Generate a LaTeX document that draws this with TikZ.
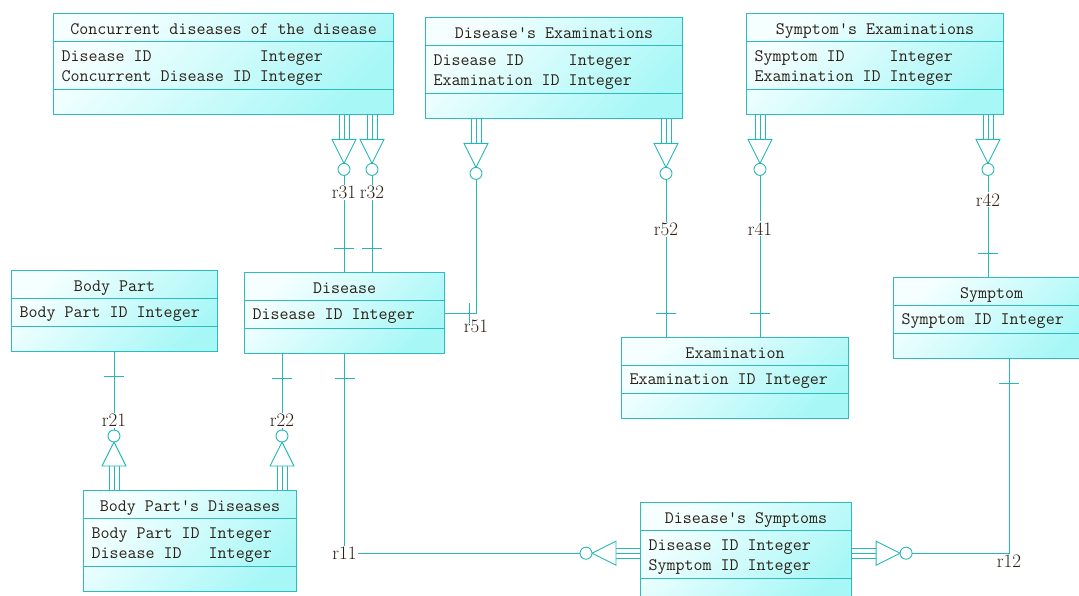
\documentclass[tikz,border=0pt]{standalone}
\usepackage{tikz}
\usetikzlibrary{shapes.multipart}

\definecolor{erline}{RGB}{38,184,184}
\definecolor{erbox}{RGB}{44,188,188}
\definecolor{erlight}{RGB}{246,255,255}
\definecolor{erdark}{RGB}{168,247,247}
\definecolor{ertext}{RGB}{44,32,22}

\newcommand\hdstrut{\rule[-7pt]{0pt}{27pt}}
\newcommand\onestrut{\rule[-9pt]{0pt}{27pt}}
\newcommand\twostrut{\rule[-28pt]{0pt}{47pt}}
\newcommand\attrs[1]{\begin{tabular}[t]{@{}l@{\ }l@{}}#1\end{tabular}}

\tikzset{
  manyend/.pic={
    \draw[rel] (-5,0) -- (-5,24) (0,0) -- (0,24) (5,0) -- (5,24);
    \draw[rel,fill=white] (-12,24) -- (12,24) -- (0,48) -- cycle;
    \draw[rel,fill=white] (0,54) circle[radius=6pt];
    \coordinate (-tail) at (0,60);
  },
  oneend/.pic={\draw[rel] (-10,24) -- (10,24);}
}

\begin{document}
\begin{tikzpicture}[x=1pt,y=-1pt,
                    rel/.style={draw=erline,line width=.9pt},
                    entity/.style={rectangle split,rectangle split parts=3,
                                   rectangle split part align={center,left,left},
                                   rectangle split empty part height=24pt,rectangle split empty part depth=0pt,
                                   rectangle split empty part width=0pt,
                                   draw=erbox,line width=1.1pt,top color=erlight,bottom color=erdark,shading angle=45,
                                   inner xsep=8pt,inner ysep=0pt,anchor=north west,text=ertext,
                                   font={\fontsize{17.5}{20}\selectfont\ttfamily}},
                    rname/.style={fill=white,inner sep=1pt,text=ertext,font={\fontsize{19}{22}\selectfont\rmfamily}}]
  \useasboundingbox (0,0) rectangle (1079,596);
  % entities
  \node[entity,minimum width=340pt] (concurrent) at (53,13)
    {\hdstrut Concurrent diseases of the disease
     \nodepart{two}\twostrut\attrs{Disease ID & Integer\\Concurrent Disease ID & Integer}};
  \node[entity,minimum width=257pt] (disease-exams) at (425,17)
    {\hdstrut Disease's Examinations
     \nodepart{two}\twostrut\attrs{Disease ID & Integer\\Examination ID & Integer}};
  \node[entity,minimum width=257pt] (symptom-exams) at (746,13)
    {\hdstrut Symptom's Examinations
     \nodepart{two}\twostrut\attrs{Symptom ID & Integer\\Examination ID & Integer}};
  \node[entity,minimum width=206pt] (body-part) at (11,270)
    {\hdstrut Body Part \nodepart{two}\onestrut Body Part ID Integer};
  \node[entity,minimum width=200pt] (disease) at (244,272)
    {\hdstrut Disease \nodepart{two}\onestrut Disease ID Integer};
  \node[entity,minimum width=227pt] (examination) at (621,337)
    {\hdstrut Examination \nodepart{two}\onestrut Examination ID Integer};
  \node[entity,minimum width=196pt] (symptom) at (893,277)
    {\hdstrut Symptom \nodepart{two}\onestrut Symptom ID Integer};
  \node[entity,minimum width=213pt] (body-part-diseases) at (83,490)
    {\hdstrut Body Part's Diseases
     \nodepart{two}\twostrut\attrs{Body Part ID & Integer\\Disease ID & Integer}};
  \node[entity,minimum width=211pt] (disease-symptoms) at (640,502)
    {\hdstrut Disease's Symptoms
     \nodepart{two}\twostrut\attrs{Disease ID & Integer\\Symptom ID & Integer}};
  % many ends
  \pic (r31) at ([xshift=291pt]concurrent.south west) {manyend};
  \pic (r32) at ([xshift=319pt]concurrent.south west) {manyend};
  \pic (r51) at ([xshift=51pt]disease-exams.south west) {manyend};
  \pic (r52) at ([xshift=241pt]disease-exams.south west) {manyend};
  \pic (r41) at ([xshift=14pt]symptom-exams.south west) {manyend};
  \pic (r42) at ([xshift=242pt]symptom-exams.south west) {manyend};
  \pic[rotate=180] (r21) at ([xshift=31pt]body-part-diseases.north west) {manyend};
  \pic[rotate=180] (r22) at ([xshift=199pt]body-part-diseases.north west) {manyend};
  \pic[rotate=-90] (r11) at (disease-symptoms.west) {manyend};
  \pic[rotate=90] (r12) at (disease-symptoms.east) {manyend};
  % one ends
  \pic[rotate=180] at (disease.north -| r31-tail) {oneend};
  \pic[rotate=180] at (disease.north -| r32-tail) {oneend};
  \pic[rotate=90] at (disease.east) {oneend};
  \pic[rotate=180] at (examination.north -| r52-tail) {oneend};
  \pic[rotate=180] at (examination.north -| r41-tail) {oneend};
  \pic[rotate=180] at (symptom.north -| r42-tail) {oneend};
  \pic at (body-part.south -| r21-tail) {oneend};
  \pic at (disease.south -| r22-tail) {oneend};
  \pic at (disease.south) {oneend};
  \pic at ([xshift=116pt]symptom.south west) {oneend};
  % relationships
  \draw[rel] (r31-tail) -- node[rname,pos=.18] {r31} (disease.north -| r31-tail);
  \draw[rel] (r32-tail) -- node[rname,pos=.18] {r32} (disease.north -| r32-tail);
  \draw[rel] (r51-tail) |- node[rname,pos=.5,below=5pt,fill=none] {r51} (disease.east);
  \draw[rel] (r52-tail) -- node[rname,pos=.32] {r52} (examination.north -| r52-tail);
  \draw[rel] (r41-tail) -- node[rname,pos=.33] {r41} (examination.north -| r41-tail);
  \draw[rel] (r42-tail) -- node[rname,pos=.24] {r42} (symptom.north -| r42-tail);
  \draw[rel] (body-part.south -| r21-tail) -- node[rname,pos=.88] {r21} (r21-tail);
  \draw[rel] (disease.south -| r22-tail) -- node[rname,pos=.875] {r22} (r22-tail);
  \draw[rel] (disease.south) |- node[rname,pos=.5] {r11} (r11-tail);
  \draw[rel] (r12-tail) -| node[rname,pos=.5,below=0pt,fill=none] {r12} ([xshift=116pt]symptom.south west);
\end{tikzpicture}
\end{document}
